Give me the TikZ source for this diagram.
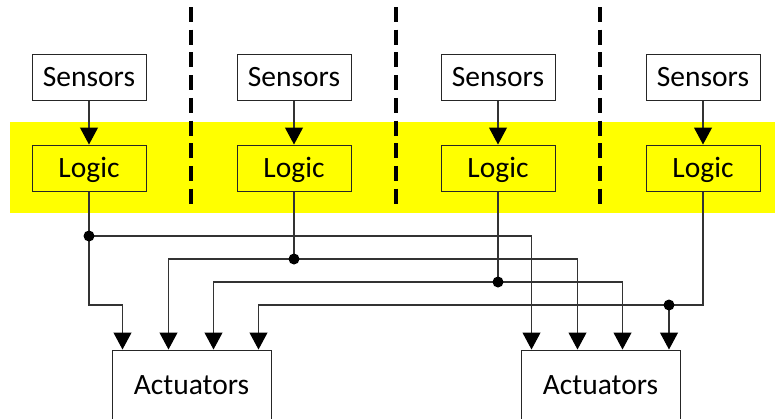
\documentclass[tikz,border=0pt]{standalone}
\usepackage{fontspec}
\setmainfont{Carlito}
\usetikzlibrary{arrows.meta}
\definecolor{hilite}{HTML}{FFFF00}
\tikzset{
  box/.style={draw=black!85, line width=1pt, minimum width=114pt, minimum height=46pt,
    inner sep=0pt, text height=22pt, text depth=4pt,
    font=\fontsize{29.5}{34}\selectfont},
  logicbox/.style={box, fill=hilite},
  actbox/.style={box, minimum width=159pt, minimum height=70pt},
  conn/.style={draw=black!80, line width=1.1pt},
  arr/.style={conn, -{Triangle[width=18pt,length=17pt,color=black]}},
  divider/.style={line width=3.4pt, dash pattern=on 15pt off 7.7pt},
  junction/.style={circle, fill=black, inner sep=0pt, minimum size=11pt}
}
\begin{document}
\begin{tikzpicture}[x=1pt, y=-1pt]
  \useasboundingbox (0,0) rectangle (775,418);
  \clip (0,0) rectangle (775,418);

  % shared logic band
  \fill[hilite] (10,122) rectangle (775,213);

  % channel dividers
  \foreach \xx in {191,396,600}
    \draw[divider] (\xx,7) -- (\xx,206);

  % four channels: sensors feeding logic
  \foreach \i/\xx in {1/89,2/294,3/498,4/703} {
    \node[box] (s\i) at (\xx,77) {Sensors};
    \node[logicbox] (l\i) at (\xx,168) {Logic};
    \draw[arr] (s\i) -- (l\i);
  }

  % actuator groups
  \node[actbox] (a1) at (191.5,385) {Actuators};
  \node[actbox] (a2) at (600.5,385) {Actuators};

  % junction points on the logic outputs
  \coordinate (j1) at (89,236);
  \coordinate (j2) at (294,259);
  \coordinate (j3) at (498,282);
  \coordinate (j4) at (669,305);

  % logic 1
  \draw[conn] (l1.south) -- (j1);
  \draw[arr] (j1) -- ++(0,69) -| ([xshift=11pt]a1.north west);
  \draw[arr] (j1) -| ([xshift=11pt]a2.north west);
  % logic 2
  \draw[conn] (l2.south) -- (j2);
  \draw[arr] (j2) -| ([xshift=57pt]a1.north west);
  \draw[arr] (j2) -| ([xshift=57pt]a2.north west);
  % logic 3
  \draw[conn] (l3.south) -- (j3);
  \draw[arr] (j3) -| ([xshift=102pt]a1.north west);
  \draw[arr] (j3) -| ([xshift=102pt]a2.north west);
  % logic 4
  \draw[conn] (l4.south) |- (j4);
  \draw[arr] (j4) -- (j4 |- a2.north);
  \draw[arr] (j4) -| ([xshift=147pt]a1.north west);

  % junction dots
  \foreach \j in {j1,j2,j3,j4}
    \node[junction] at (\j) {};
\end{tikzpicture}
\end{document}
